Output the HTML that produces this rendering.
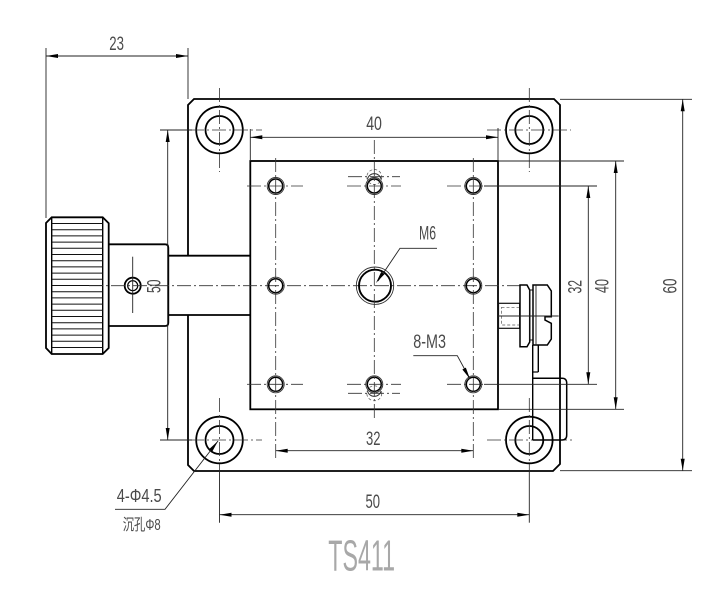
<!DOCTYPE html>
<html><head><meta charset="utf-8"><style>
html,body{margin:0;padding:0;background:#fff;}
svg{display:block;}
.t{font-family:"DejaVu Sans ExtraLight","Liberation Sans Narrow","Liberation Sans",sans-serif;fill:#4a4a4a;}
.c{fill:none;stroke:#333;stroke-width:0.8;stroke-dasharray:14 3 2 3;}
.th{fill:none;stroke:#222;stroke-width:0.9;}
.k{fill:none;stroke:#000;stroke-width:1.8;}
.a{fill:#000;stroke:none;}
</style></head><body>
<svg width="720" height="591" viewBox="0 0 720 591" xmlns="http://www.w3.org/2000/svg">
<!-- Base plate -->
<path class="k" d="M188,255.7 L188,105 L194,99 L554,99 L560,105 L560,464 L553,471 L194,471 L188,465 L188,315"/>
<!-- Platform -->
<rect class="k" x="250.3" y="161" width="247.7" height="248.3"/>

<!-- Knob -->
<path class="k" d="M51.7,217.3 L102.7,217.3 L108.7,223.3 L108.7,348 L102.7,354 L51.7,354 L46,348 L46,223 Z"/>
<line class="k" x1="51.7" y1="217.3" x2="51.7" y2="354" style="stroke-width:1.4"/>
<line class="k" x1="102.7" y1="217.3" x2="102.7" y2="354" style="stroke-width:1.4"/>
<g stroke="#111" stroke-width="1">
<line x1="51.7" y1="223.5" x2="102.7" y2="223.5"/><line x1="51.7" y1="229.7" x2="102.7" y2="229.7"/>
<line x1="51.7" y1="235.9" x2="102.7" y2="235.9"/><line x1="51.7" y1="242.1" x2="102.7" y2="242.1"/>
<line x1="51.7" y1="248.3" x2="102.7" y2="248.3"/><line x1="51.7" y1="254.5" x2="102.7" y2="254.5"/>
<line x1="51.7" y1="260.7" x2="102.7" y2="260.7"/><line x1="51.7" y1="266.9" x2="102.7" y2="266.9"/>
<line x1="51.7" y1="273.1" x2="102.7" y2="273.1"/><line x1="51.7" y1="279.3" x2="102.7" y2="279.3"/>
<line x1="51.7" y1="285.5" x2="102.7" y2="285.5"/><line x1="51.7" y1="291.7" x2="102.7" y2="291.7"/>
<line x1="51.7" y1="297.9" x2="102.7" y2="297.9"/><line x1="51.7" y1="304.1" x2="102.7" y2="304.1"/>
<line x1="51.7" y1="310.3" x2="102.7" y2="310.3"/><line x1="51.7" y1="316.5" x2="102.7" y2="316.5"/>
<line x1="51.7" y1="322.7" x2="102.7" y2="322.7"/><line x1="51.7" y1="328.9" x2="102.7" y2="328.9"/>
<line x1="51.7" y1="335.1" x2="102.7" y2="335.1"/><line x1="51.7" y1="341.3" x2="102.7" y2="341.3"/>
<line x1="51.7" y1="347.5" x2="102.7" y2="347.5"/>
</g>
<!-- Hub -->
<path class="k" d="M108.7,244.3 L165,244.3 Q168.3,244.3 168.3,247.6 L168.3,322.7 Q168.3,326 165,326 L108.7,326"/>
<line class="k" x1="168.3" y1="255.7" x2="250.3" y2="255.7"/>
<line class="k" x1="168.3" y1="315" x2="250.3" y2="315"/>
<circle class="k" cx="132.7" cy="285.7" r="8"/>
<circle cx="132.7" cy="285.7" r="5" fill="none" stroke="#000" stroke-width="1.2"/>
<line class="th" x1="132.7" y1="256.7" x2="132.7" y2="313"/>

<!-- main horizontal axis -->
<line class="c" x1="89" y1="285.7" x2="520" y2="285.7"/>

<!-- Big holes -->
<g>
<circle class="k" cx="219.5" cy="130" r="23.3"/><circle class="k" cx="219.5" cy="130" r="14"/>
<circle class="k" cx="529.3" cy="130" r="23.3"/><circle class="k" cx="529.3" cy="130" r="14"/>
<circle class="k" cx="219.5" cy="440" r="23.3"/><circle class="k" cx="219.5" cy="440" r="14"/>
<circle class="k" cx="529.3" cy="440" r="23.3"/><circle class="k" cx="529.3" cy="440" r="14"/>
</g>
<line class="c" x1="219.5" y1="88" x2="219.5" y2="172"/>
<line class="c" x1="190" y1="130" x2="262" y2="130"/>
<line class="th" x1="160" y1="130" x2="192" y2="130"/>
<line class="c" x1="529.3" y1="88" x2="529.3" y2="172"/>
<line class="c" x1="487" y1="130" x2="571" y2="130"/>
<line class="c" x1="219.5" y1="398" x2="219.5" y2="470"/>
<line class="th" x1="219.5" y1="470" x2="219.5" y2="522.7"/>
<line class="c" x1="190" y1="440" x2="262" y2="440"/>
<line class="th" x1="160" y1="440" x2="192" y2="440"/>
<line class="c" x1="529.3" y1="398" x2="529.3" y2="470"/>
<line class="th" x1="529.3" y1="470" x2="529.3" y2="522.7"/>
<line class="c" x1="487" y1="440" x2="575" y2="440"/>

<!-- Small holes -->
<g>
<circle cx="275.7" cy="186" r="8.5" fill="none" stroke="#333" stroke-width="0.9"/><circle cx="275.7" cy="186" r="7" fill="none" stroke="#000" stroke-width="1.5"/>
<circle cx="374.3" cy="186" r="8.5" fill="none" stroke="#333" stroke-width="0.9"/><circle cx="374.3" cy="186" r="7" fill="none" stroke="#000" stroke-width="1.5"/>
<circle cx="473.3" cy="186" r="8.5" fill="none" stroke="#333" stroke-width="0.9"/><circle cx="473.3" cy="186" r="7" fill="none" stroke="#000" stroke-width="1.5"/>
<circle cx="275.7" cy="285.7" r="8.5" fill="none" stroke="#333" stroke-width="0.9"/><circle cx="275.7" cy="285.7" r="7" fill="none" stroke="#000" stroke-width="1.5"/>
<circle cx="473.3" cy="285.7" r="8.5" fill="none" stroke="#333" stroke-width="0.9"/><circle cx="473.3" cy="285.7" r="7" fill="none" stroke="#000" stroke-width="1.5"/>
<circle cx="275.7" cy="384.3" r="8.5" fill="none" stroke="#333" stroke-width="0.9"/><circle cx="275.7" cy="384.3" r="7" fill="none" stroke="#000" stroke-width="1.5"/>
<circle cx="374.3" cy="384.3" r="8.5" fill="none" stroke="#333" stroke-width="0.9"/><circle cx="374.3" cy="384.3" r="7" fill="none" stroke="#000" stroke-width="1.5"/>
<circle cx="473.3" cy="384.3" r="8.5" fill="none" stroke="#333" stroke-width="0.9"/><circle cx="473.3" cy="384.3" r="7" fill="none" stroke="#000" stroke-width="1.5"/>
<!-- hidden circles -->
<path d="M367.5,179 A7,7 0 0 1 381.1,179" fill="none" stroke="#333" stroke-width="1"/>
<circle cx="374.3" cy="177" r="7.5" fill="none" stroke="#555" stroke-width="0.7" stroke-dasharray="3 2"/>
<path d="M367.5,391 A7,7 0 0 0 381.1,391" fill="none" stroke="#333" stroke-width="1"/>
<circle cx="374.3" cy="393.3" r="7.5" fill="none" stroke="#555" stroke-width="0.7" stroke-dasharray="3 2"/>
</g>
<line class="c" x1="348" y1="176.7" x2="400" y2="176.7"/>
<line class="c" x1="348" y1="393.3" x2="400" y2="393.3"/>
<!-- M6 hole -->
<circle cx="375" cy="285.7" r="18.7" fill="none" stroke="#333" stroke-width="0.9"/>
<circle cx="375" cy="285.7" r="16" fill="none" stroke="#000" stroke-width="1.9"/>

<!-- small hole center lines -->
<line class="c" x1="275.7" y1="158" x2="275.7" y2="459"/>
<line class="c" x1="374.3" y1="140" x2="374.3" y2="418"/>
<line class="c" x1="473.3" y1="158" x2="473.3" y2="459"/>
<line class="c" x1="247" y1="186" x2="303" y2="186"/>
<line class="c" x1="347" y1="186" x2="401" y2="186"/>
<line class="c" x1="447" y1="186" x2="484" y2="186"/>
<line class="c" x1="247" y1="384.3" x2="303" y2="384.3"/>
<line class="c" x1="347" y1="384.3" x2="401" y2="384.3"/>
<line class="c" x1="447" y1="384.3" x2="484" y2="384.3"/>

<!-- Right clamp mechanism -->
<rect x="498.5" y="303.3" width="21.2" height="25" fill="none" stroke="#111" stroke-width="1.2"/>
<rect x="501.5" y="307.3" width="18" height="17.7" fill="none" stroke="#555" stroke-width="0.7" stroke-dasharray="3 2"/>
<path class="k" style="stroke-width:1.5" d="M520,285 L527,285 L529.7,290 L529.7,342 L527,346.7 L520,346.7 Z"/>
<rect x="529.7" y="290" width="3.3" height="50" fill="none" stroke="#111" stroke-width="1"/>
<path class="k" style="stroke-width:1.5" d="M533,285 L547.3,285 L551.3,291 L551.3,316.7 L545,316.7 L545,320 L551.3,323.3 L551.3,339 L547.3,345 L533,345 Z"/>
<line class="th" x1="536" y1="285" x2="536" y2="345"/>
<line class="th" x1="498" y1="316" x2="558.7" y2="316"/>
<line class="k" style="stroke-width:1.4" x1="532.7" y1="345" x2="532.7" y2="440"/>
<line class="k" style="stroke-width:1.4" x1="538.3" y1="345" x2="538.3" y2="372"/>
<line class="k" style="stroke-width:1.2" x1="532.7" y1="372" x2="538.3" y2="372"/>
<path class="k" style="stroke-width:1.5" d="M532.7,378.3 L562,378.3 Q566.7,378.3 566.7,383 L566.7,435 Q566.7,440 562,440 L532.7,440"/>

<!-- Dimension lines -->
<g class="th">
<line x1="46" y1="48" x2="46" y2="218"/>
<line x1="188" y1="48" x2="188" y2="99"/>
<line x1="46" y1="56" x2="188" y2="56"/>
<line x1="250.3" y1="129" x2="250.3" y2="161"/>
<line x1="498" y1="128" x2="498" y2="161"/>
<line x1="250.3" y1="137.3" x2="498" y2="137.3"/>
<line x1="167.7" y1="130" x2="167.7" y2="440"/>
<line x1="275.7" y1="450.7" x2="473.3" y2="450.7"/>
<line x1="219.5" y1="514.7" x2="529.3" y2="514.7"/>
<line x1="484" y1="186" x2="597" y2="186"/>
<line x1="484" y1="384.3" x2="597" y2="384.3"/>
<line x1="588.3" y1="186" x2="588.3" y2="384.3"/>
<line x1="498" y1="161" x2="624" y2="161"/>
<line x1="498" y1="409.3" x2="624" y2="409.3"/>
<line x1="615.7" y1="161" x2="615.7" y2="409.3"/>
<line x1="560" y1="99.3" x2="692" y2="99.3"/>
<line x1="560" y1="470.7" x2="692" y2="470.7"/>
<line x1="682.7" y1="99.3" x2="682.7" y2="470.7"/>
<polyline points="378,281 400,248.3 437,248.3" fill="none"/>
<polyline points="413.3,355.7 457.3,355.7 470,379" fill="none"/>
<polyline points="115,509.3 165,509.3 218,441" fill="none"/>
</g>

<!-- Arrowheads -->
<g class="a">
<polygon points="46,56 58,54 58,58"/><polygon points="188,56 176,54 176,58"/>
<polygon points="250.3,137.3 262.3,135.3 262.3,139.3"/><polygon points="498,137.3 486,135.3 486,139.3"/>
<polygon points="167.7,130 165.7,142 169.7,142"/><polygon points="167.7,440 165.7,428 169.7,428"/>
<polygon points="275.7,450.7 287.7,448.7 287.7,452.7"/><polygon points="473.3,450.7 461.3,448.7 461.3,452.7"/>
<polygon points="219.5,514.7 231.5,512.7 231.5,516.7"/><polygon points="529.3,514.7 517.3,512.7 517.3,516.7"/>
<polygon points="588.3,186 586.3,198 590.3,198"/><polygon points="588.3,384.3 586.3,372.3 590.3,372.3"/>
<polygon points="615.7,161 613.7,173 617.7,173"/><polygon points="615.7,409.3 613.7,397.3 617.7,397.3"/>
<polygon points="682.7,99.3 680.7,111.3 684.7,111.3"/><polygon points="682.7,470.7 680.7,458.7 684.7,458.7"/>
<polygon points="376,283 384.45,274.2 381.15,271.97"/>
<polygon points="470,379 465.84,367.57 462.36,369.53"/>
<polygon points="218,441 212.2,451.7 209.04,449.24"/>
</g>

<!-- Text -->
<g class="t" font-size="19">
<text x="109.3" y="50" textLength="14.7" lengthAdjust="spacingAndGlyphs">23</text>
<text x="366.2" y="130" textLength="15.7" lengthAdjust="spacingAndGlyphs">40</text>
<text x="419" y="239.3" textLength="17" lengthAdjust="spacingAndGlyphs">M6</text>
<text x="413.3" y="348" textLength="32.7" lengthAdjust="spacingAndGlyphs">8-M3</text>
<text x="366" y="445" textLength="14.5" lengthAdjust="spacingAndGlyphs">32</text>
<text x="365.5" y="508" textLength="14.5" lengthAdjust="spacingAndGlyphs">50</text>
<text x="116.7" y="502" font-size="18" textLength="45" lengthAdjust="spacingAndGlyphs">4-Φ4.5</text>
<text transform="translate(160.7,293) rotate(-90)" textLength="13.4" lengthAdjust="spacingAndGlyphs">50</text>
<text transform="translate(581.7,293.5) rotate(-90)" textLength="13.6" lengthAdjust="spacingAndGlyphs">32</text>
<text transform="translate(608.3,293) rotate(-90)" textLength="14" lengthAdjust="spacingAndGlyphs">40</text>
<text transform="translate(676.5,293.5) rotate(-90)" textLength="15" lengthAdjust="spacingAndGlyphs">60</text>
</g>
<text x="122.7" y="530" font-family="'Liberation Sans','Noto Sans CJK SC',sans-serif" font-size="16" fill="#4a4a4a" textLength="38" lengthAdjust="spacingAndGlyphs">沉孔Φ8</text>
<text x="328.3" y="570.7" class="t" font-size="44" style="fill:#a8a8a8" textLength="66.7" lengthAdjust="spacingAndGlyphs">TS411</text>
</svg>
</body></html>
